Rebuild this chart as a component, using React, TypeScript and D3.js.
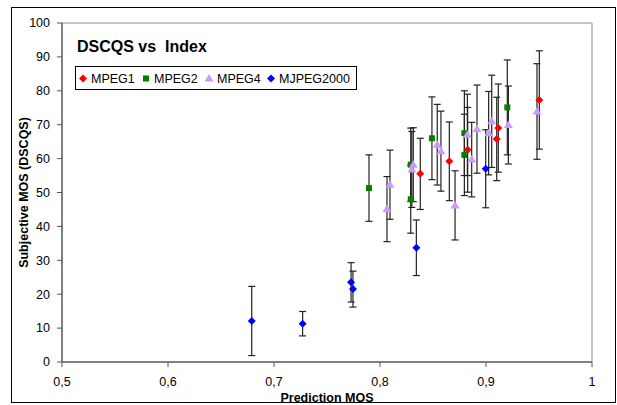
import React from "react";
import * as d3 from "d3";

// ---- data (x = prediction MOS, y = subjective MOS, e = half-width of error bar)
const mpeg1X = [0.838, 0.8654, 0.8827, 0.9101, 0.9116, 0.9503];
const mpeg1Y = [55.5, 59.2, 62.6, 65.8, 69.0, 77.3];
const mpeg1E = [10.5, 11.6, 12.5, 12.3, 13.0, 14.5];

const mpeg2X = [0.7896, 0.829, 0.829, 0.849, 0.8796, 0.8796, 0.9201];
const mpeg2Y = [51.3, 58.2, 48.0, 66.0, 67.5, 61.1, 75.1];
const mpeg2E = [9.8, 10.8, 10.0, 12.2, 12.5, 12.0, 14.0];

const mpeg4X = [0.8066, 0.8094, 0.8314, 0.83, 0.854, 0.8575, 0.8708, 0.8824, 0.8865, 0.8915, 0.9025, 0.9054, 0.9211, 0.9481];
const mpeg4Y = [45.1, 52.3, 58.2, 56.8, 64.1, 62.2, 46.2, 67.0, 59.7, 68.7, 67.5, 71.0, 69.9, 73.9];
const mpeg4E = [9.6, 10.2, 10.9, 11.2, 11.9, 11.8, 10.2, 12.0, 11.0, 13.0, 12.3, 13.6, 11.5, 14.1];

const mj2kX = [0.679, 0.727, 0.7727, 0.7745, 0.8343, 0.8997];
const mj2kY = [12.1, 11.3, 23.5, 21.5, 33.7, 57.0];
const mj2kE = [10.2, 3.6, 5.8, 5.3, 8.2, 11.5];

const seriesNames = ["MPEG1", "MPEG2", "MPEG4", "MJPEG2000"];
const xTicks = [0.5, 0.6, 0.7, 0.8, 0.9, 1];
const yTicks = [0, 10, 20, 30, 40, 50, 60, 70, 80, 90, 100];

const colors = ["#FF0000", "#008000", "#CC99FF", "#0000FF"];
const shapes = ["diamond", "square", "triangle", "diamond"];

const W = 617;
const H = 405;
const PL = 62, PR = 592, PT = 23, PB = 362;

function Marker({ shape, x, y, color }: { shape: string; x: number; y: number; color: string }) {
  if (shape === "square") {
    return <rect x={x - 3} y={y - 3} width={6} height={6} fill={color} />;
  }
  if (shape === "triangle") {
    return <path d={`M${x},${y - 4.5}L${x + 4.5},${y + 3}L${x - 4.5},${y + 3}Z`} fill={color} />;
  }
  return <path d={`M${x},${y - 4}L${x + 4},${y}L${x},${y + 4}L${x - 4},${y}Z`} fill={color} />;
}

export default function App() {
  const x = d3.scaleLinear().domain([0.5, 1]).range([PL, PR]);
  const y = d3.scaleLinear().domain([0, 100]).range([PB, PT]);
  const fmt = (v: number) => (v === 1 ? "1" : d3.format(".1f")(v).replace(".", ","));

  const series = [
    { xs: mpeg1X, ys: mpeg1Y, es: mpeg1E },
    { xs: mpeg2X, ys: mpeg2Y, es: mpeg2E },
    { xs: mpeg4X, ys: mpeg4Y, es: mpeg4E },
    { xs: mj2kX, ys: mj2kY, es: mj2kE },
  ];

  const legendX = [80, 143, 206, 268];

  return (
    <svg width={W} height={H} style={{ position: "absolute", left: 0, top: 0, fontFamily: "Arial, 'Liberation Sans', sans-serif" }}>
      <rect x={0} y={0} width={W} height={H} fill="#fff" />
      {/* outer chart frame */}
      <rect x={11.5} y={7.5} width={604} height={395} fill="none" stroke="#000" strokeWidth={1} />
      {/* plot area border (top/right) */}
      <line x1={PL} x2={PR} y1={PT} y2={PT} stroke="#b0b0b0" strokeWidth={1.5} />
      <line x1={PR} x2={PR} y1={PT} y2={PB} stroke="#b0b0b0" strokeWidth={1.5} />
      {/* axes */}
      <line x1={PL} x2={PR} y1={PB} y2={PB} stroke="#808080" strokeWidth={2} />
      <line x1={PL} x2={PL} y1={PT} y2={PB} stroke="#808080" strokeWidth={2} />
      {yTicks.map((t) => (
        <g key={"y" + t}>
          <line x1={PL - 5} x2={PL} y1={y(t)} y2={y(t)} stroke="#555" strokeWidth={1} />
          <text x={50} y={y(t)} dy="0.35em" textAnchor="end" fontSize={12.5} fill="#000">
            {t}
          </text>
        </g>
      ))}
      {xTicks.map((t) => (
        <g key={"x" + t}>
          <line x1={x(t)} x2={x(t)} y1={PB} y2={PB + 5} stroke="#555" strokeWidth={1} />
          <text x={x(t)} y={382} dy="0.35em" textAnchor="middle" fontSize={12.5} fill="#000">
            {fmt(t)}
          </text>
        </g>
      ))}
      <text x={(PL + PR) / 2} y={398} dy="0.35em" textAnchor="middle" fontSize={12.5} fontWeight="bold">
        Prediction MOS
      </text>
      <text
        transform={`translate(24,${(PT + PB) / 2}) rotate(-90)`}
        dy="0.35em"
        textAnchor="middle"
        fontSize={12.5}
        fontWeight="bold"
      >
        Subjective MOS (DSCQS)
      </text>

      {/* error bars */}
      {series.map((s, si) =>
        s.xs.map((xv, i) => {
          const cx = x(xv);
          const top = y(s.ys[i] + s.es[i]);
          const bot = y(s.ys[i] - s.es[i]);
          return (
            <g key={`e${si}-${i}`} stroke="#222" strokeWidth={1.2}>
              <line x1={cx} x2={cx} y1={top} y2={bot} />
              <line x1={cx - 3.5} x2={cx + 3.5} y1={top} y2={top} />
              <line x1={cx - 3.5} x2={cx + 3.5} y1={bot} y2={bot} />
            </g>
          );
        })
      )}
      {/* markers */}
      {series.map((s, si) =>
        s.xs.map((xv, i) => (
          <Marker key={`m${si}-${i}`} shape={shapes[si]} x={x(xv)} y={y(s.ys[i])} color={colors[si]} />
        ))
      )}

      {/* title */}
      <text x={77} y={52} fontSize={16} fontWeight="bold">
        DSCQS vs&#160; Index
      </text>
      {/* legend */}
      <rect x={75.5} y={66.5} width={281} height={23} fill="#fff" stroke="#000" strokeWidth={1} />
      {seriesNames.map((n, i) => (
        <g key={n}>
          <Marker shape={shapes[i]} x={legendX[i] + 3} y={78.5} color={colors[i]} />
          <text x={legendX[i] + 11} y={78.5} dy="0.35em" fontSize={12.5}>
            {n}
          </text>
        </g>
      ))}
    </svg>
  );
}
